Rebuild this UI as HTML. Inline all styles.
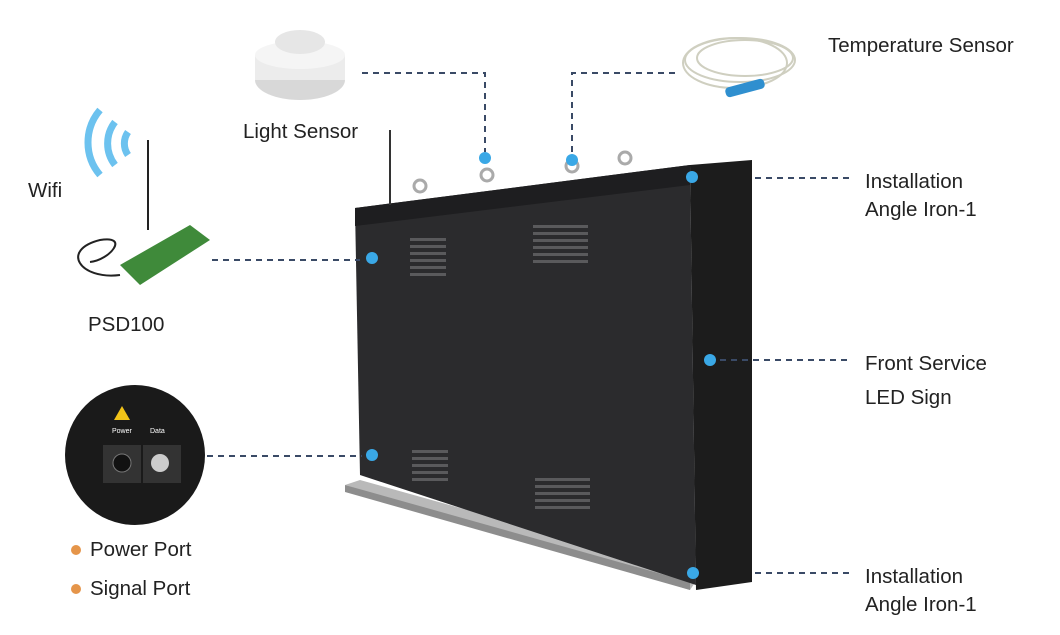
<!DOCTYPE html>
<html><head><meta charset="utf-8"><style>
html,body{margin:0;padding:0;background:#fff;}
svg{display:block;font-family:"Liberation Sans",Arial,sans-serif;}
</style></head><body>
<svg width="1060" height="635" viewBox="0 0 1060 635" xmlns="http://www.w3.org/2000/svg">
<rect width="1060" height="635" fill="#fff"/>
<!-- angle iron bottom -->
<polygon points="345,485 360,480 700,575 690,590" fill="#b9b9b9"/>
<polygon points="345,485 690,582 690,590 345,492" fill="#8d8d8d"/>
<!-- cabinet right side -->
<polygon points="690,165 752,160 752,582 696,590" fill="#1c1c1c"/>
<!-- front face -->
<polygon points="355,208 690,165 696,585 360,475" fill="#2b2b2d"/>
<polygon points="355,208 690,165 690,185 355,226" fill="#1e1e20"/>
<!-- vents -->
<g fill="#5a5a5c">
<rect x="410" y="238" width="36" height="3"/><rect x="410" y="245" width="36" height="3"/><rect x="410" y="252" width="36" height="3"/><rect x="410" y="259" width="36" height="3"/><rect x="410" y="266" width="36" height="3"/><rect x="410" y="273" width="36" height="3"/>
<rect x="533" y="225" width="55" height="3"/><rect x="533" y="232" width="55" height="3"/><rect x="533" y="239" width="55" height="3"/><rect x="533" y="246" width="55" height="3"/><rect x="533" y="253" width="55" height="3"/><rect x="533" y="260" width="55" height="3"/>
<rect x="412" y="450" width="36" height="3"/><rect x="412" y="457" width="36" height="3"/><rect x="412" y="464" width="36" height="3"/><rect x="412" y="471" width="36" height="3"/><rect x="412" y="478" width="36" height="3"/>
<rect x="535" y="478" width="55" height="3"/><rect x="535" y="485" width="55" height="3"/><rect x="535" y="492" width="55" height="3"/><rect x="535" y="499" width="55" height="3"/><rect x="535" y="506" width="55" height="3"/>
</g>
<!-- eyebolts & antenna -->
<g fill="none" stroke="#aaa" stroke-width="3">
<circle cx="420" cy="186" r="6"/><circle cx="487" cy="175" r="6"/><circle cx="572" cy="166" r="6"/><circle cx="625" cy="158" r="6"/>
</g>
<line x1="390" y1="130" x2="390" y2="205" stroke="#333" stroke-width="2"/>
<!-- dashed connectors -->
<g stroke="#3a4a66" stroke-width="2" stroke-dasharray="6,5" fill="none">
<line x1="212" y1="260" x2="360" y2="260"/>
<polyline points="362,73 485,73 485,152"/>
<polyline points="572,152 572,73 680,73"/>
<line x1="755" y1="178" x2="852" y2="178"/>
<line x1="720" y1="360" x2="852" y2="360"/>
<line x1="755" y1="573" x2="852" y2="573"/>
<line x1="207" y1="456" x2="362" y2="456"/>
</g>
<g fill="#3aa8e6">
<circle cx="372" cy="258" r="6"/><circle cx="485" cy="158" r="6"/><circle cx="572" cy="160" r="6"/><circle cx="692" cy="177" r="6"/><circle cx="710" cy="360" r="6"/><circle cx="372" cy="455" r="6"/><circle cx="693" cy="573" r="6"/>
</g>
<!-- light sensor -->
<ellipse cx="300" cy="80" rx="45" ry="20" fill="#d8d8d8"/>
<rect x="255" y="55" width="90" height="25" fill="#ececec"/>
<ellipse cx="300" cy="55" rx="45" ry="14" fill="#f5f5f5"/>
<ellipse cx="300" cy="42" rx="25" ry="12" fill="#e6e6e6"/>
<!-- temperature sensor -->
<g fill="none" stroke="#cfcfc0" stroke-width="2">
<ellipse cx="740" cy="60" rx="55" ry="22"/><ellipse cx="745" cy="58" rx="48" ry="18"/><ellipse cx="735" cy="63" rx="52" ry="25"/>
</g>
<rect x="725" y="83" width="40" height="10" rx="4" fill="#2f8fcf" transform="rotate(-15 745 88)"/>
<!-- wifi -->
<g fill="none" stroke="#6cc2ef" stroke-width="7">
<path d="M100,110 A50,50 0 0 0 100,175"/><path d="M115,122 A35,35 0 0 0 115,165"/><path d="M128,132 A20,20 0 0 0 128,155"/>
</g>
<line x1="148" y1="140" x2="148" y2="230" stroke="#222" stroke-width="2"/>
<!-- PSD100 board -->
<polygon points="120,265 190,225 210,240 140,285" fill="#3f8a3a"/>
<path d="M120,275 C80,280 60,250 100,240 C130,235 110,260 90,262" fill="none" stroke="#222" stroke-width="2"/>
<!-- port panel -->
<circle cx="135" cy="455" r="70" fill="#1a1a1a"/>
<rect x="103" y="445" width="38" height="38" fill="#333"/><rect x="143" y="445" width="38" height="38" fill="#333"/>
<circle cx="122" cy="463" r="9" fill="#111" stroke="#777"/><circle cx="160" cy="463" r="9" fill="#ccc"/>
<polygon points="122,406 114,420 130,420" fill="#f2c318"/>
<text x="112" y="433" fill="#fff" font-size="7">Power</text><text x="150" y="433" fill="#fff" font-size="7">Data</text>
<!-- labels -->
<g font-size="20.5" fill="#222">
<text x="828" y="52">Temperature Sensor</text>
<text x="243" y="138">Light Sensor</text>
<text x="28" y="197">Wifi</text>
<text x="88" y="331">PSD100</text>
<text x="865" y="188">Installation</text><text x="865" y="216">Angle Iron-1</text>
<text x="865" y="370">Front Service</text><text x="865" y="404">LED Sign</text>
<text x="865" y="583">Installation</text><text x="865" y="611">Angle Iron-1</text>
<text x="90" y="556">Power Port</text><text x="90" y="595">Signal Port</text>
</g>
<circle cx="76" cy="550" r="5" fill="#e5954a"/><circle cx="76" cy="589" r="5" fill="#e5954a"/>
</svg>
</body></html>
